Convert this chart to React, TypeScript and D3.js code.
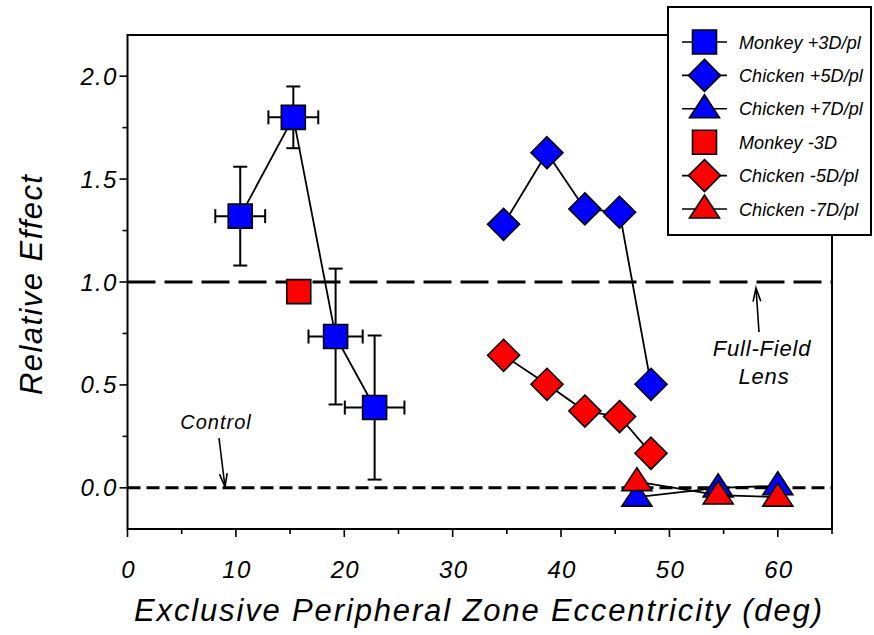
import * as d3 from "d3";

// Monkey +3D/pl (with error bars)
const monkeyPlusX = [10.4, 15.3, 19.2, 22.8];
const monkeyPlusY = [1.32, 1.8, 0.735, 0.39];
const monkeyPlusXErr = [2.3, 2.3, 2.5, 2.75];
const monkeyPlusYErr = [0.24, 0.15, 0.33, 0.35];
// Monkey -3D
const monkeyMinusX = [15.8];
const monkeyMinusY = [0.953];
// Chicken +/-5D/pl
const chicken5X = [34.7, 38.7, 42.2, 45.4, 48.3];
const chickenPlus5Y = [1.28, 1.628, 1.355, 1.339, 0.503];
const chickenMinus5Y = [0.644, 0.503, 0.373, 0.346, 0.168];
// Chicken +/-7D/pl
const chicken7X = [47.0, 54.5, 60.0];
const chickenPlus7Y = [-0.045, 0.0, 0.01];
const chickenMinus7Y = [0.03, -0.035, -0.045];

const xTicks = [0, 10, 20, 30, 40, 50, 60];
const xMinor = [5, 15, 25, 35, 45, 55, 65];
const yTicks = [0, 0.5, 1.0, 1.5, 2.0];
const yMinor = [0.25, 0.75, 1.25, 1.75];

const legendItems = [
  { label: "Monkey +3D/pl", shape: "square", color: "#0000ff", line: true },
  { label: "Chicken +5D/pl", shape: "diamond", color: "#0000ff", line: true },
  { label: "Chicken +7D/pl", shape: "triangle", color: "#0000ff", line: true },
  { label: "Monkey -3D", shape: "square", color: "#ff0000", line: false },
  { label: "Chicken -5D/pl", shape: "diamond", color: "#ff0000", line: true },
  { label: "Chicken -7D/pl", shape: "triangle", color: "#ff0000", line: true },
];

const W = 874;
const H = 635;
const left = 127.5;
const right = 832;
const top = 35;
const bottom = 529;

const font = "'Liberation Sans', Arial, sans-serif";

const x = d3.scaleLinear().domain([0, 65]).range([left, right]);
const y = d3.scaleLinear().domain([-0.2, 2.2]).range([bottom, top]);

function markerPath(shape: string, cx: number, cy: number) {
  if (shape === "square") {
    const s = 12;
    return `M${cx - s},${cy - s}H${cx + s}V${cy + s}H${cx - s}Z`;
  }
  if (shape === "diamond") {
    const s = 16;
    return `M${cx},${cy - s}L${cx + s},${cy}L${cx},${cy + s}L${cx - s},${cy}Z`;
  }
  const w = 15;
  return `M${cx},${cy - 14}L${cx + w},${cy + 9}L${cx - w},${cy + 9}Z`;
}

function Series({ xs, ys, shape, color, line }: any) {
  const pts = xs.map((v: number, i: number) => [x(v), y(ys[i])] as [number, number]);
  return (
    <g>
      {line && (
        <path d={d3.line()(pts) || ""} fill="none" stroke="#000" strokeWidth={1.8} />
      )}
      {pts.map((p: [number, number], i: number) => (
        <path key={i} d={markerPath(shape, p[0], p[1])} fill={color} stroke="#000" strokeWidth={1.6} />
      ))}
    </g>
  );
}

function ErrorBars() {
  const cap = 7;
  return (
    <g stroke="#000" strokeWidth={2}>
      {monkeyPlusX.map((v, i) => {
        const cx = x(v);
        const cy = y(monkeyPlusY[i]);
        const y0 = y(monkeyPlusY[i] - monkeyPlusYErr[i]);
        const y1 = y(monkeyPlusY[i] + monkeyPlusYErr[i]);
        const x0 = x(v - monkeyPlusXErr[i]);
        const x1 = x(v + monkeyPlusXErr[i]);
        return (
          <g key={i}>
            <line x1={cx} x2={cx} y1={y0} y2={y1} />
            <line x1={cx - cap} x2={cx + cap} y1={y0} y2={y0} />
            <line x1={cx - cap} x2={cx + cap} y1={y1} y2={y1} />
            <line x1={x0} x2={x1} y1={cy} y2={cy} />
            <line x1={x0} x2={x0} y1={cy - cap} y2={cy + cap} />
            <line x1={x1} x2={x1} y1={cy - cap} y2={cy + cap} />
          </g>
        );
      })}
    </g>
  );
}

function Arrow({ x1, y1, x2, y2 }: any) {
  const ang = Math.atan2(y2 - y1, x2 - x1);
  const len = 14;
  const spread = 0.28;
  const a1 = [x2 - len * Math.cos(ang - spread), y2 - len * Math.sin(ang - spread)];
  const a2 = [x2 - len * Math.cos(ang + spread), y2 - len * Math.sin(ang + spread)];
  return (
    <g stroke="#000" strokeWidth={1.6} fill="none">
      <line x1={x1} y1={y1} x2={x2} y2={y2} />
      <path d={`M${a1[0]},${a1[1]}L${x2},${y2}L${a2[0]},${a2[1]}`} />
    </g>
  );
}

export default function App() {
  const legX = 668;
  const legY = 7;
  const rowH = 33.4;
  return (
    <svg
      width={W}
      height={H}
      style={{ position: "absolute", left: 0, top: 0, background: "#fff" }}
      fontFamily={font}
    >
      <rect x={0} y={0} width={W} height={H} fill="#fff" />
      {/* reference lines */}
      <line x1={left} x2={right} y1={y(1)} y2={y(1)} stroke="#000" strokeWidth={3} strokeDasharray="28 9" />
      <line x1={left} x2={right} y1={y(0)} y2={y(0)} stroke="#000" strokeWidth={3} strokeDasharray="13 6" />

      {/* frame */}
      <rect x={left} y={top} width={right - left} height={bottom - top} fill="none" stroke="#000" strokeWidth={2} />

      {/* ticks */}
      <g stroke="#000" strokeWidth={1.6}>
        {yTicks.map((t) => (
          <line key={t} x1={left - 8} x2={left} y1={y(t)} y2={y(t)} />
        ))}
        {yMinor.map((t) => (
          <line key={t} x1={left - 5} x2={left} y1={y(t)} y2={y(t)} />
        ))}
        {xTicks.map((t) => (
          <line key={t} x1={x(t)} x2={x(t)} y1={bottom} y2={bottom + 8} />
        ))}
        {xMinor.map((t) => (
          <line key={t} x1={x(t)} x2={x(t)} y1={bottom} y2={bottom + 5} />
        ))}
      </g>
      {yTicks.map((t) => (
        <text key={t} x={left - 10} y={y(t) + 8.5} textAnchor="end" fontSize={24} letterSpacing={1.2} fontStyle="italic">
          {d3.format(".1f")(t)}
        </text>
      ))}
      {xTicks.map((t) => (
        <text key={t} x={x(t) + 1} y={bottom + 49} textAnchor="middle" fontSize={24} letterSpacing={1.2} fontStyle="italic">
          {t}
        </text>
      ))}

      <text
        transform={`translate(42,285) rotate(-90)`}
        textAnchor="middle"
        fontSize={31}
        fontStyle="italic"
        textLength={220}
        lengthAdjust="spacing"
      >
        Relative Effect
      </text>
      <text
        x={478}
        y={621}
        textAnchor="middle"
        fontSize={31}
        fontStyle="italic"
        textLength={688}
        lengthAdjust="spacing"
      >
        Exclusive Peripheral Zone Eccentricity (deg)
      </text>

      {/* data */}
      <path
        d={d3.line()(monkeyPlusX.map((v, i) => [x(v), y(monkeyPlusY[i])] as [number, number])) || ""}
        fill="none"
        stroke="#000"
        strokeWidth={1.8}
      />
      <ErrorBars />
      <Series xs={monkeyPlusX} ys={monkeyPlusY} shape="square" color="#0000ff" line={false} />
      <Series xs={chicken5X} ys={chickenPlus5Y} shape="diamond" color="#0000ff" line />
      <Series xs={chicken7X} ys={chickenPlus7Y} shape="triangle" color="#0000ff" line />
      <Series xs={monkeyMinusX} ys={monkeyMinusY} shape="square" color="#ff0000" line={false} />
      <Series xs={chicken5X} ys={chickenMinus5Y} shape="diamond" color="#ff0000" line />
      <Series xs={chicken7X} ys={chickenMinus7Y} shape="triangle" color="#ff0000" line />

      {/* annotations */}
      <text x={216} y={429} textAnchor="middle" fontSize={20} letterSpacing={1} fontStyle="italic">
        Control
      </text>
      <Arrow x1={219} y1={438} x2={225} y2={487} />
      <text x={762} y={356} textAnchor="middle" fontSize={22} letterSpacing={0.8} fontStyle="italic">
        Full-Field
      </text>
      <text x={764} y={384} textAnchor="middle" fontSize={22} letterSpacing={0.8} fontStyle="italic">
        Lens
      </text>
      <Arrow x1={759} y1={332} x2={756} y2={288} />

      {/* legend */}
      <rect x={legX} y={legY} width={203} height={228} fill="#fff" stroke="#000" strokeWidth={2} />
      {legendItems.map((it, i) => {
        const cy = legY + 35 + i * rowH;
        return (
          <g key={it.label}>
            {it.line && <line x1={682} x2={727} y1={cy} y2={cy} stroke="#000" strokeWidth={1.6} />}
            <path d={markerPath(it.shape, 704.5, cy)} fill={it.color} stroke="#000" strokeWidth={1.6} />
            <text x={739} y={cy + 6.5} fontSize={18} letterSpacing={0.1} fontStyle="italic">
              {it.label}
            </text>
          </g>
        );
      })}
    </svg>
  );
}
